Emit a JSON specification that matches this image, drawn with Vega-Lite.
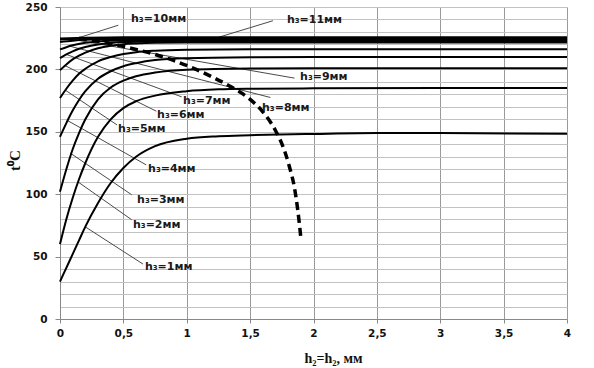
{
  "$schema": "https://vega.github.io/schema/vega-lite/v6.json",
  "width": 507,
  "height": 312,
  "autosize": {"type": "none"},
  "padding": {"left": 60, "top": 7, "right": 27, "bottom": 49},
  "background": "white",
  "config": {"view": {"stroke": null}},
  "datasets": {
    "curves": [
      {"h":"1","x":0,"t":30},{"h":"1","x":0.05,"t":41},{"h":"1","x":0.1,"t":52},{"h":"1","x":0.15,"t":63},{"h":"1","x":0.2,"t":74},{"h":"1","x":0.3,"t":93},{"h":"1","x":0.4,"t":109},{"h":"1","x":0.5,"t":121},{"h":"1","x":0.6,"t":130},{"h":"1","x":0.75,"t":138.5},{"h":"1","x":1,"t":144.5},{"h":"1","x":1.25,"t":146.5},{"h":"1","x":1.5,"t":147.3},{"h":"1","x":2,"t":148.3},{"h":"1","x":2.5,"t":149},{"h":"1","x":3,"t":149},{"h":"1","x":4,"t":148.5},
      {"h":"2","x":0,"t":60},{"h":"2","x":0.05,"t":80},{"h":"2","x":0.1,"t":97},{"h":"2","x":0.15,"t":112},{"h":"2","x":0.2,"t":125},{"h":"2","x":0.3,"t":146},{"h":"2","x":0.4,"t":160},{"h":"2","x":0.5,"t":169},{"h":"2","x":0.6,"t":174.5},{"h":"2","x":0.75,"t":179},{"h":"2","x":1,"t":182.5},{"h":"2","x":1.25,"t":184},{"h":"2","x":1.5,"t":184.5},{"h":"2","x":2,"t":184.8},{"h":"2","x":3,"t":185},{"h":"2","x":4,"t":185},
      {"h":"3","x":0,"t":102},{"h":"3","x":0.05,"t":120},{"h":"3","x":0.1,"t":136},{"h":"3","x":0.15,"t":149},{"h":"3","x":0.2,"t":160},{"h":"3","x":0.3,"t":176},{"h":"3","x":0.4,"t":185.5},{"h":"3","x":0.5,"t":191},{"h":"3","x":0.6,"t":194.5},{"h":"3","x":0.75,"t":197.5},{"h":"3","x":1,"t":199.8},{"h":"3","x":1.5,"t":200.8},{"h":"3","x":2,"t":201},{"h":"3","x":4,"t":201},
      {"h":"4","x":0,"t":146},{"h":"4","x":0.05,"t":157},{"h":"4","x":0.1,"t":167},{"h":"4","x":0.15,"t":175.5},{"h":"4","x":0.2,"t":182.5},{"h":"4","x":0.3,"t":192.5},{"h":"4","x":0.4,"t":198.5},{"h":"4","x":0.5,"t":202.5},{"h":"4","x":0.6,"t":205},{"h":"4","x":0.75,"t":207.5},{"h":"4","x":1,"t":209},{"h":"4","x":1.5,"t":209.8},{"h":"4","x":2,"t":210},{"h":"4","x":4,"t":210},
      {"h":"5","x":0,"t":177},{"h":"5","x":0.05,"t":184.5},{"h":"5","x":0.1,"t":191},{"h":"5","x":0.15,"t":196.5},{"h":"5","x":0.2,"t":200.5},{"h":"5","x":0.3,"t":206.5},{"h":"5","x":0.4,"t":210},{"h":"5","x":0.5,"t":212.3},{"h":"5","x":0.6,"t":213.8},{"h":"5","x":0.75,"t":215},{"h":"5","x":1,"t":215.8},{"h":"5","x":1.5,"t":216.2},{"h":"5","x":4,"t":216.2},
      {"h":"6","x":0,"t":199.4},{"h":"6","x":0.05,"t":204},{"h":"6","x":0.1,"t":208},{"h":"6","x":0.15,"t":211},{"h":"6","x":0.2,"t":213.5},{"h":"6","x":0.3,"t":217},{"h":"6","x":0.4,"t":219},{"h":"6","x":0.5,"t":220.2},{"h":"6","x":0.6,"t":220.8},{"h":"6","x":0.75,"t":221.3},{"h":"6","x":1,"t":221.5},{"h":"6","x":4,"t":221.5},
      {"h":"7","x":0,"t":209},{"h":"7","x":0.05,"t":212},{"h":"7","x":0.1,"t":214.5},{"h":"7","x":0.15,"t":216.5},{"h":"7","x":0.2,"t":218},{"h":"7","x":0.3,"t":220},{"h":"7","x":0.4,"t":221.2},{"h":"7","x":0.5,"t":221.9},{"h":"7","x":0.75,"t":222.4},{"h":"7","x":1,"t":222.5},{"h":"7","x":4,"t":222.5},
      {"h":"8","x":0,"t":216},{"h":"8","x":0.05,"t":217.8},{"h":"8","x":0.1,"t":219.3},{"h":"8","x":0.2,"t":221.3},{"h":"8","x":0.3,"t":222.4},{"h":"8","x":0.4,"t":223},{"h":"8","x":0.6,"t":223.4},{"h":"8","x":1,"t":223.5},{"h":"8","x":4,"t":223.5},
      {"h":"9","x":0,"t":222},{"h":"9","x":0.1,"t":223},{"h":"9","x":0.2,"t":223.7},{"h":"9","x":0.35,"t":224.1},{"h":"9","x":0.6,"t":224.3},{"h":"9","x":4,"t":224.3},
      {"h":"10","x":0,"t":224},{"h":"10","x":0.15,"t":224.6},{"h":"10","x":0.4,"t":225},{"h":"10","x":4,"t":225},
      {"h":"11","x":0,"t":224.8},{"h":"11","x":0.2,"t":225.3},{"h":"11","x":0.5,"t":225.7},{"h":"11","x":4,"t":225.7}
    ],
    "dash": [
      {"x":0.15,"t":225},{"x":0.3,"t":222.5},{"x":0.45,"t":219.5},{"x":0.6,"t":216},{"x":0.75,"t":212},{"x":0.9,"t":207},{"x":1.05,"t":201},{"x":1.2,"t":194},{"x":1.35,"t":186},{"x":1.5,"t":176},{"x":1.6,"t":166},{"x":1.7,"t":151},{"x":1.76,"t":138},{"x":1.81,"t":122},{"x":1.85,"t":105},{"x":1.875,"t":88},{"x":1.89,"t":75},{"x":1.9,"t":65}
    ],
    "leaders": [
      {"x":0.197,"t":74,"x2":0.655,"t2":44},
      {"x":0.14,"t":110,"x2":0.566,"t2":79.5},
      {"x":0.08,"t":133,"x2":0.566,"t2":99.5},
      {"x":0.06,"t":159,"x2":0.68,"t2":123.5},
      {"x":0.04,"t":183.5,"x2":0.45,"t2":155.5},
      {"x":0.04,"t":203,"x2":0.76,"t2":166.5},
      {"x":0.05,"t":212,"x2":0.96,"t2":178},
      {"x":0.08,"t":218.5,"x2":1.66,"t2":177.5},
      {"x":0.14,"t":223.3,"x2":1.85,"t2":193},
      {"x":0.13,"t":224.8,"x2":0.46,"t2":235.4},
      {"x":1.25,"t":225.7,"x2":1.68,"t2":239}
    ],
    "labels": [
      {"x":0.67,"t":41.5,"label":"h₃=1мм"},
      {"x":0.576,"t":75.4,"label":"h₃=2мм"},
      {"x":0.608,"t":95.4,"label":"h₃=3мм"},
      {"x":0.695,"t":120,"label":"h₃=4мм"},
      {"x":0.458,"t":152.6,"label":"h₃=5мм"},
      {"x":0.766,"t":163.4,"label":"h₃=6мм"},
      {"x":0.971,"t":175,"label":"h₃=7мм"},
      {"x":1.594,"t":169.4,"label":"h₃=8мм"},
      {"x":1.894,"t":193.8,"label":"h₃=9мм"},
      {"x":0.56,"t":240.6,"label":"h₃=10мм"},
      {"x":1.79,"t":239.4,"label":"h₃=11мм"}
    ]
  },
  "layer": [
    {
      "data": {"name": "leaders"},
      "mark": {"type": "rule", "color": "#4a4a4a", "strokeWidth": 1},
      "encoding": {
        "x": {"field": "x", "type": "quantitative", "scale": {"domain": [0, 4], "nice": false},
          "axis": {
            "values": [0, 0.5, 1, 1.5, 2, 2.5, 3, 3.5, 4],
            "tickCount": 100,
            "labelExpr": "replace(format(datum.value, '~g'), '.', ',')",
            "grid": true, "gridColor": "#9a9a9a", "gridWidth": 1,
            "domainColor": "#888888", "tickColor": "#888888", "tickSize": 4,
            "labelFont": "DejaVu Sans", "labelFontWeight": "bold", "labelFontSize": 10.5, "labelColor": "#111111",
            "labelPadding": 5, "labelFlush": false, "labelOverlap": false,
            "title": "h₂=h₂, мм",
            "titleFont": "Liberation Serif", "titleFontWeight": "bold", "titleFontSize": 14, "titleColor": "#111111",
            "titleX": 244, "titleY": 43, "titleAlign": "left", "titleBaseline": "alphabetic", "titleAnchor": null
          }
        },
        "y": {"field": "t", "type": "quantitative", "scale": {"domain": [0, 250], "nice": false},
          "axis": {
            "values": [0,10,20,30,40,50,60,70,80,90,100,110,120,130,140,150,160,170,180,190,200,210,220,230,240,250],
            "tickCount": 100,
            "labelExpr": "datum.value % 50 === 0 ? datum.label : ''",
            "grid": true, "gridColor": "#c2c2c2", "gridWidth": 1,
            "domainColor": "#888888", "tickColor": "#888888", "tickSize": 5,
            "tickOpacity": {"condition": {"test": "datum.value % 50 === 0", "value": 1}, "value": 0},
            "labelFont": "DejaVu Sans", "labelFontWeight": "bold", "labelFontSize": 10.5, "labelColor": "#111111",
            "labelPadding": 8, "labelFlush": false, "labelOverlap": false,
            "title": "t⁰C",
            "titleFont": "Liberation Serif", "titleFontWeight": "bold", "titleFontSize": 15, "titleColor": "#111111",
            "titleX": -46, "titleY": 153, "titleAngle": 270, "titleAlign": "center", "titleBaseline": "middle", "titleAnchor": null
          }
        },
        "x2": {"field": "x2"},
        "y2": {"field": "t2"}
      }
    },
    {
      "data": {"name": "curves"},
      "mark": {"type": "line", "color": "#000000", "strokeWidth": 2, "interpolate": "monotone"},
      "encoding": {
        "x": {"field": "x", "type": "quantitative"},
        "y": {"field": "t", "type": "quantitative"},
        "detail": {"field": "h", "type": "nominal"}
      }
    },
    {
      "data": {"name": "dash"},
      "mark": {"type": "line", "color": "#000000", "strokeWidth": 3.5, "strokeDash": [8, 5], "interpolate": "monotone"},
      "encoding": {
        "x": {"field": "x", "type": "quantitative"},
        "y": {"field": "t", "type": "quantitative"}
      }
    },
    {
      "data": {"name": "labels"},
      "mark": {"type": "text", "align": "left", "baseline": "middle", "font": "DejaVu Sans", "fontWeight": "bold", "fontSize": 11, "color": "#1a1a1a"},
      "encoding": {
        "x": {"field": "x", "type": "quantitative"},
        "y": {"field": "t", "type": "quantitative"},
        "text": {"field": "label"}
      }
    }
  ]
}
